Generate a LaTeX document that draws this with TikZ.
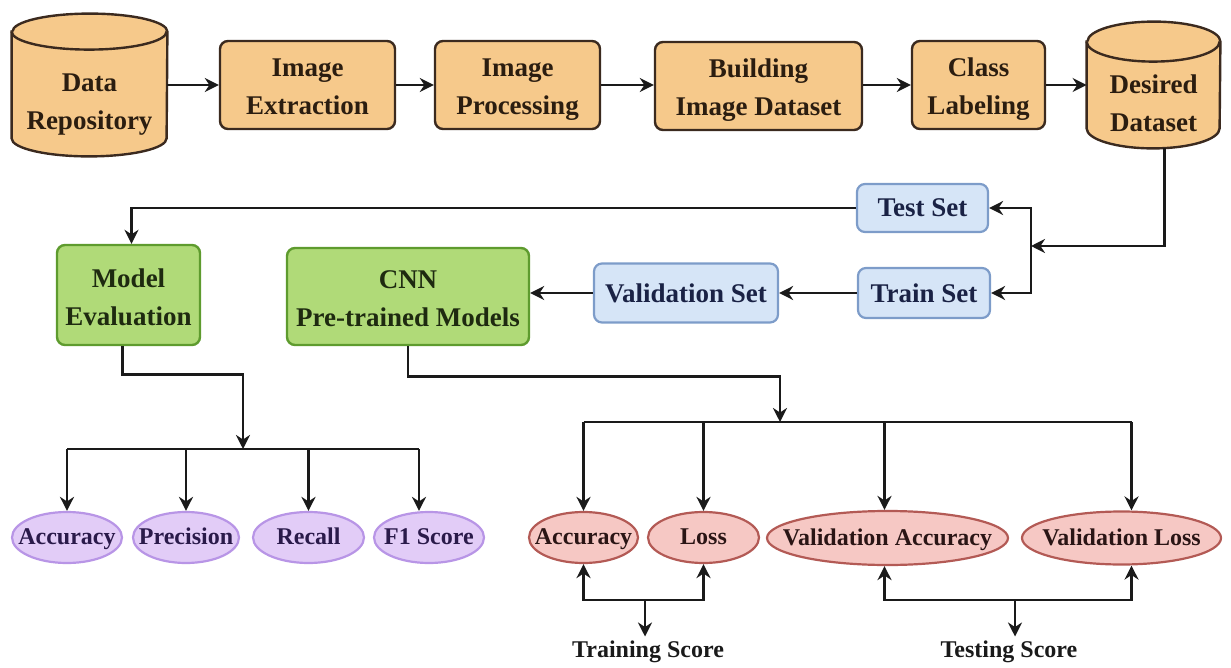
\documentclass[tikz,border=0pt]{standalone}
\usepackage{fontspec}
\setmainfont{Liberation Serif}
\usetikzlibrary{shapes.geometric,arrows.meta,calc}
\definecolor{lnc}{HTML}{1A1A1A}
\definecolor{of}{HTML}{F6C98B}
\definecolor{ob}{HTML}{3B2A1F}
\definecolor{ot}{HTML}{2B1D10}
\definecolor{gf}{HTML}{B0DA78}
\definecolor{gb}{HTML}{5E9B2E}
\definecolor{gt}{HTML}{1E2A10}
\definecolor{bf}{HTML}{D6E5F7}
\definecolor{bb}{HTML}{7D9CC9}
\definecolor{bt}{HTML}{1A2245}
\definecolor{pf}{HTML}{E2CCF7}
\definecolor{pb}{HTML}{B895E6}
\definecolor{pt}{HTML}{2A1A4A}
\definecolor{rf}{HTML}{F6C8C4}
\definecolor{rb}{HTML}{B35A55}
\definecolor{rt}{HTML}{2A1515}
\newcommand{\mybigfont}{\fontsize{13.5}{19}\selectfont\bfseries}
\newcommand{\mysmallfont}{\fontsize{12}{14}\selectfont\bfseries}
\newcommand{\zw}[1]{\makebox[0pt]{#1}}
\newcommand{\drawcyl}[3]{%
  \filldraw[cylst] ([yshift=-#3]#1.north west) -- ([yshift=#3]#1.south west)
    arc[start angle=180,end angle=360,x radius=#2,y radius=#3]
    -- ([yshift=-#3]#1.north east)
    arc[start angle=0,end angle=180,x radius=#2,y radius=#3] -- cycle;
  \draw[cylst] ([yshift=-#3]#1.north west)
    arc[start angle=180,end angle=360,x radius=#2,y radius=#3];}
\tikzset{
  every node/.style={inner sep=0pt},
  lnk/.style={draw=lnc, line width=1.45pt},
  arr/.style={lnk, -{Stealth[length=7pt,width=7pt]}},
  cylnode/.style={draw=none, rectangle},
  cylst/.style={draw=ob, fill=of, line width=1.2pt},
  cyltext/.style={text=ot, font=\mybigfont, align=center, text depth=3pt},
  obox/.style={draw=ob, fill=of, line width=1.2pt, rounded corners=4pt, text=ot, font=\mybigfont, align=center, minimum height=44pt, text height=33pt, text depth=3pt},
  gbox/.style={draw=gb, fill=gf, line width=1.2pt, rounded corners=4pt, text=gt, font=\mybigfont, align=center, text height=33pt, text depth=3pt},
  bbox/.style={draw=bb, fill=bf, line width=1.1pt, rounded corners=4pt, text=bt, font=\mybigfont, align=center, text height=12pt, text depth=3pt},
  pell/.style={ellipse, draw=pb, fill=pf, line width=1.1pt, text=pt, font=\mysmallfont, minimum height=25.5pt, text height=10pt, text depth=2.6pt},
  rell/.style={ellipse, draw=rb, fill=rf, line width=1.1pt, text=rt, font=\mysmallfont, minimum height=25.5pt, text height=10pt, text depth=2.6pt},
  score/.style={text=lnc, font=\mysmallfont, inner sep=2pt, text height=8.5pt, text depth=2.6pt}
}
\begin{document}
\begin{tikzpicture}[x=0.5pt,y=-0.5pt]
\useasboundingbox (0,0) rectangle (1231,668);
% top row
\node[cylnode, minimum width=77.5pt, minimum height=71pt] (DR) at (89.5,85) {};
\drawcyl{DR}{38.75pt}{9pt}
\node[cyltext] (DRt) at (89.5,105) {Data\\Repository};
\node[obox, minimum width=87.5pt] (IE) at (307.5,85) {Image\\Extraction};
\node[obox, minimum width=82.5pt] (IP) at (517.5,85) {Image\\Processing};
\node[obox, minimum width=103.5pt] (BD) at (758.5,86) {Building\\Image Dataset};
\node[obox, minimum width=66.5pt] (CL) at (978.5,85) {Class\\Labeling};
\node[cylnode, minimum width=66.5pt, minimum height=63pt] (DS) at (1153.5,85) {};
\drawcyl{DS}{33.25pt}{10pt}
\node[cyltext] (DSt) at (1153.5,106.5) {Desired\\Dataset};
\draw[arr] (DR.east) -- (IE.west);
\draw[arr] (IE.east) -- (IP.west);
\draw[arr] (IP.east) -- (IP.east -| BD.west);
\draw[arr] (BD.east |- CL.west) -- (CL.west);
\draw[arr] (CL.east) -- (DS.east -| DS.west);
% split
\node[bbox, minimum width=65.5pt, minimum height=24pt] (TS) at (922.5,208) {Test Set};
\node[bbox, minimum width=66pt, minimum height=25pt] (TR) at (924,293) {Train Set};
\node[bbox, minimum width=92pt, minimum height=29.5pt] (VS) at (686,293) {Validation Set};
\node[gbox, minimum width=71.5pt, minimum height=50pt] (ME) at (128.5,295) {Model\\Evaluation};
\node[gbox, minimum width=121pt, minimum height=48.5pt] (CNN) at (408,296.5) {CNN\\Pre-trained Models};
\coordinate (bus) at (1031,246);
\draw[arr] ([xshift=5.5pt]DS.south) |- (bus);
\draw[arr] (bus) |- (TS.east);
\draw[arr] (bus) |- (TR.east);
\draw[arr] (TR.west) -- (VS.east);
\draw[arr] (VS.west) -- (VS.west -| CNN.east);
\draw[arr] (TS.west) -| ([xshift=1.5pt]ME.north);
% evaluation metrics
\node[pell, minimum width=55pt] (EA) at (67,537.5) {\zw{Accuracy}};
\node[pell, minimum width=53pt] (EP) at (186,537.5) {\zw{Precision}};
\node[pell, minimum width=55.5pt] (ER) at (308.5,537.5) {\zw{Recall}};
\node[pell, minimum width=55pt] (EF) at (429,537.5) {\zw{F1 Score}};
\coordinate (mj) at (243,449);
\draw[arr] ([xshift=-3pt]ME.south) -- ++(0,28) -| (mj);
\draw[lnk] (EA.north |- mj) -- ([xshift=-5pt]EF.north |- mj);
\draw[arr] (EA.north |- mj) -- (EA.north);
\draw[arr] (EP.north |- mj) -- (EP.north);
\draw[arr] (ER.north |- mj) -- (ER.north);
\draw[arr] ([xshift=-5pt]EF.north |- mj) -- ([xshift=-5pt]EF.north);
% training metrics
\node[rell, minimum width=54.5pt] (RA) at (583.5,537.5) {\zw{Accuracy}};
\node[rell, minimum width=55.5pt] (RL) at (703.5,537.5) {\zw{Loss}};
\node[rell, minimum width=120.5pt, minimum height=27pt] (VA) at (887.5,538) {\zw{Validation Accuracy}};
\node[rell, minimum width=99.5pt, minimum height=26.5pt] (VL) at (1121.5,538) {\zw{Validation Loss}};
\coordinate (cj) at (780,422);
\draw[arr] (CNN.south) -- ++(0,30) -| (cj);
\draw[lnk] (RA.north |- cj) -- ([xshift=5pt]VL.north |- cj);
\draw[arr] (RA.north |- cj) -- (RA.north);
\draw[arr] (RL.north |- cj) -- (RL.north);
\draw[arr] ([xshift=-1.5pt]VA.north |- cj) -- ([xshift=-1.5pt]VA.north);
\draw[arr] ([xshift=5pt]VL.north |- cj) -- ([xshift=5pt]VL.north);
% scores
\node[score] (TrS) at (648,652) {Training Score};
\node[score] (TeS) at (1009,652) {Testing Score};
\coordinate (tj) at (645,600);
\coordinate (sj) at (1015,600);
\draw[arr] (tj) -| (RA.south);
\draw[arr] (tj) -| (RL.south);
\draw[arr] (tj) -- (tj |- TrS.north);
\draw[arr] (sj) -| ([xshift=-1.5pt]VA.south);
\draw[arr] (sj) -| ([xshift=5pt]VL.south);
\draw[arr] (sj) -- (sj |- TeS.north);
\end{tikzpicture}
\end{document}
